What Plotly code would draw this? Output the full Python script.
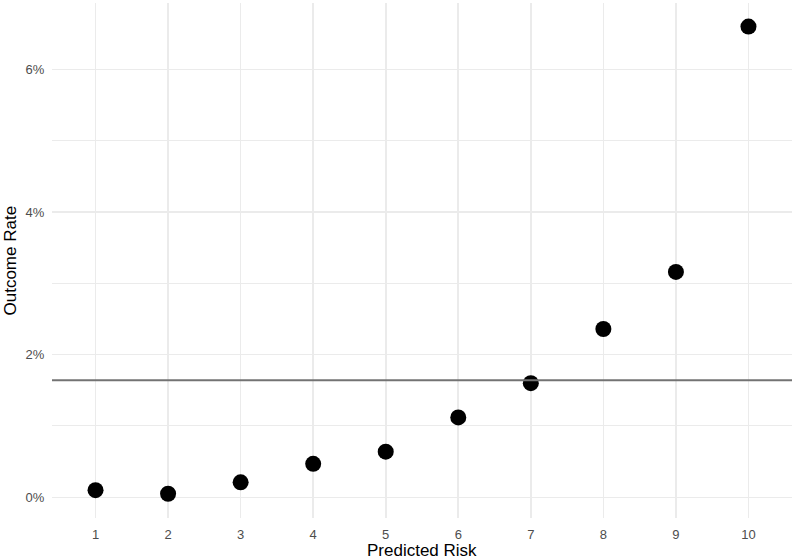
import plotly.graph_objects as go

# Data
risk_decile = [1, 2, 3, 4, 5, 6, 7, 8, 9, 10]
outcome_rate_pct = [0.10, 0.05, 0.21, 0.47, 0.64, 1.12, 1.60, 2.36, 3.16, 6.60]
overall_rate_pct = 1.64
y_tick_vals = [0, 2, 4, 6]
y_tick_text = ["0%", "2%", "4%", "6%"]
x_tick_text = [str(v) for v in risk_decile]

FONT = "Liberation Sans, Arial, Helvetica, sans-serif"
GRID = "#ebebeb"

fig = go.Figure()
fig.add_trace(go.Scatter(
    x=risk_decile, y=outcome_rate_pct, mode="markers",
    marker=dict(color="black", size=16),
    hoverinfo="skip", showlegend=False,
))
fig.add_hline(y=overall_rate_pct, line=dict(color="#737373", width=2), layer="above")

fig.update_layout(
    width=795, height=560,
    margin=dict(l=52, r=3, t=3, b=42),
    paper_bgcolor="white", plot_bgcolor="white",
    font=dict(family=FONT, size=13, color="#4d4d4d"),
    xaxis=dict(
        range=[0.4, 10.6], tickmode="array", tickvals=risk_decile, ticktext=x_tick_text,
        showgrid=True, gridcolor=GRID, gridwidth=1.6, zeroline=False, showline=False,
        ticks="outside", ticklen=4, tickcolor="rgba(0,0,0,0)", automargin=False,
        tickfont=dict(size=13, color="#4d4d4d"),
    ),
    yaxis=dict(
        range=[-0.29, 6.93], tickmode="array", tickvals=y_tick_vals, ticktext=y_tick_text,
        showgrid=True, gridcolor=GRID, gridwidth=1.6, zeroline=False, showline=False,
        ticks="outside", ticklen=4, tickcolor="rgba(0,0,0,0)", automargin=False,
        tickfont=dict(size=13, color="#4d4d4d"),
        minor=dict(tickmode="linear", tick0=0, dtick=1, showgrid=True, gridcolor=GRID, gridwidth=1.0, ticks=""),
    ),
    annotations=[
        dict(text="Predicted Risk", xref="paper", yref="paper", x=0.5, y=0,
             xanchor="center", yanchor="middle", yshift=-32, showarrow=False,
             font=dict(size=17, color="black")),
        dict(text="Outcome Rate", xref="paper", yref="paper", x=0, y=0.5,
             xanchor="center", yanchor="middle", xshift=-42, textangle=-90, showarrow=False,
             font=dict(size=17, color="black")),
    ],
)

fig.write_html(
    "out.html",
    config={"displayModeBar": False, "staticPlot": True},
    post_script="document.body.style.margin='0';document.body.style.overflow='hidden';",
)
